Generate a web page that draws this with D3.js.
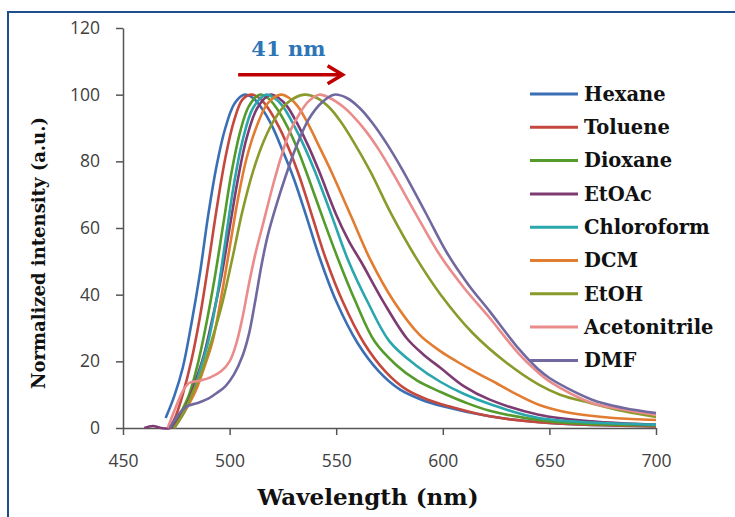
<!DOCTYPE html>
<html>
<head>
<meta charset="utf-8">
<script src="https://cdn.jsdelivr.net/npm/d3@7"></script>
<style>
  body { margin: 0; background: #fff; }
  svg { display: block; }
  .tick-label { font-family: 'Open Sans', sans-serif; font-size: 17.5px; fill: #404040; }
  .serif-bold { font-family: 'DejaVu Serif', serif; font-weight: bold; fill: #111; }
</style>
</head>
<body>
<div id="chart"></div>
<script>
// Solvents, in legend order
const solvents = ['Hexane', 'Toluene', 'Dioxane', 'EtOAc', 'Chloroform', 'DCM', 'EtOH', 'Acetonitrile', 'DMF'];
const colors = ['#3a6fb5', '#c4483e', '#549b2c', '#7e3b72', '#2aa6ad', '#e17c30', '#8a9a2b', '#ea8c8b', '#6f69a0'];

// Emission spectra: [wavelength nm, normalized intensity]
const hexane = [[470,3],[474,9.5],[478,18],[482,31],[486,46],[490,64],[494,79],[498,90],[502,97],[506,99.8],[508,100],[511,99],[515,96],[520,90.5],[525,83],[530,75],[536,63.5],[542,51.5],[550,38],[560,25.5],[570,17],[580,11.5],[590,8.5],[600,6.5],[622,3.5],[650,1.5],[700,0.5]];
const toluene = [[472,0],[475,4],[478,10],[482,20],[486,33],[490,49],[494,66],[498,81],[502,92],[506,98.5],[510,100],[514,99],[518,96],[523,90.5],[528,83.5],[533,75],[539,63],[545,51],[553,38],[563,25.5],[573,17],[583,11.5],[593,8.5],[603,6.5],[622,3.5],[650,1.5],[700,0.5]];
const dioxane = [[473,0],[477,4.5],[481,10],[485,19],[489,31],[493,45],[497,61],[501,77],[505,89],[509,96.5],[514,100],[518,99],[522,96],[527,90.5],[532,83.5],[537,75],[544,62.5],[551,50.5],[559,38],[568,26],[578,19],[588,14.2],[599,10.8],[610,7.8],[622,5.2],[650,2],[700,0.8]];
const etoac = [[460,0],[464,0.6],[468,0],[472,0],[476,2.5],[480,7],[484,14],[488,22],[492,33],[496,45],[500,60],[504,75],[508,87],[513,96],[519,100],[523,99],[527,96.5],[532,91],[537,84.5],[542,77],[550,64],[556,56],[562,49.5],[572,38],[583,27],[591,22],[599,18],[610,12.5],[622,8.5],[645,4],[670,2],[700,1]];
const chloroform = [[474,0],[478,4],[482,9],[486,17],[490,26],[494,39],[498,56],[502,73],[506,86],[511,96],[517,100],[521,99],[525,96.5],[530,91],[535,84.5],[540,77],[548,63.5],[555.5,50.5],[565,37.5],[575,26],[587,19],[599,13.8],[610,10.2],[622,7.2],[645,3],[700,1]];
const dcm = [[474,0],[479,5],[484,11],[488,18],[492,26],[496,39],[500,54],[504,69],[508,81],[513,91],[518,97.5],[524,100],[528,99],[532,96.5],[537,91],[542,84.5],[548,76.5],[557,63.5],[566,50.5],[577,38],[589,28],[599,23],[607,19.8],[613,17.6],[619,15.5],[625,13.5],[632,11],[645,7],[660,4.5],[680,3],[700,2.4]];
const etoh = [[474,0],[478,4],[483,11],[487,17],[491,25],[496,36],[501,50],[506,65],[511,77],[516,86],[521,92.5],[527,97.5],[535,100],[541,99],[547,96],[552,92],[558,86],[566,77],[576,64],[588,50.5],[599,40],[614,28.5],[630,19.5],[645,13],[655,10],[669,7.5],[685,5],[700,3.3]];
const acetonitrile = [[471,0],[474,5],[478,11],[481,13.5],[486,14.2],[491,15.2],[496,17],[500,20],[503,25],[506,33],[509,43],[512,52],[516,62],[520,72],[524,81],[528,88.5],[533,94.5],[537,98],[542,100],[547,99],[553,96.5],[558,93.5],[564,89],[570,83.5],[577,76],[588,63.5],[599,51.5],[610,42],[622,33],[636,22],[645,16.5],[650,14],[670,7.5],[685,5.5],[700,4]];
const dmf = [[472,0],[476,4],[480,6.5],[485,7.5],[490,8.8],[494,10.5],[498,12.5],[502,16],[506,21.5],[509,28],[512,38],[515,49],[518,58],[522,67],[526,75],[531,84],[537,92.5],[543,97.5],[549,100],[555,99],[561,96],[567,91.5],[574,85],[581,77.5],[592,64.5],[602,52.5],[612,43],[622,35],[636,23.5],[645,17.5],[650,15],[670,8.5],[685,6],[700,4.5]];
const spectra = [hexane, toluene, dioxane, etoac, chloroform, dcm, etoh, acetonitrile, dmf];

const xTicks = [450, 500, 550, 600, 650, 700];
const yTicks = [0, 20, 40, 60, 80, 100, 120];

// 41 nm shift annotation (data units)
const shiftFrom = 504, shiftTo = 553, shiftLevel = 106;

const W = 735, H = 517;
const svg = d3.select('#chart').append('svg')
    .attr('width', W)
    .attr('height', H);

// Outer frame (runs off the right and bottom edges)
svg.append('path')
    .attr('d', `M${W + 5},12 H8 V${H + 5}`)
    .attr('fill', 'none')
    .attr('stroke', '#1f4e8c')
    .attr('stroke-width', 2);

const x = d3.scaleLinear().domain([450, 700]).range([123, 656]);
const y = d3.scaleLinear().domain([0, 120]).range([428, 28]);

// Axes
const xAxis = svg.append('g')
    .attr('transform', `translate(0,${y(0)})`)
    .call(d3.axisBottom(x).tickValues(xTicks).tickSize(7).tickSizeOuter(0).tickPadding(20));
const yAxis = svg.append('g')
    .attr('transform', `translate(${x(450)},0)`)
    .call(d3.axisLeft(y).tickValues(yTicks).tickSize(7).tickSizeOuter(0).tickPadding(16));

[xAxis, yAxis].forEach(g => {
    g.select('.domain').attr('stroke', '#555').attr('stroke-width', 1.5);
    g.selectAll('.tick line').attr('stroke', '#555').attr('stroke-width', 1.5);
    g.selectAll('.tick text').attr('class', 'tick-label').attr('font-family', null).attr('font-size', null).attr('fill', null);
});

// Spectra
const line = d3.line()
    .x(d => x(d[0]))
    .y(d => y(d[1]))
    .curve(d3.curveCatmullRom.alpha(0.5));

svg.append('g')
    .selectAll('path')
    .data(spectra)
    .join('path')
    .attr('d', line)
    .attr('fill', 'none')
    .attr('stroke', (d, i) => colors[i])
    .attr('stroke-width', 2.6)
    .attr('stroke-linejoin', 'round');

// Legend
const legend = svg.append('g');
solvents.forEach((name, i) => {
    const ly = 94 + i * 33.3;
    legend.append('line')
        .attr('x1', 530).attr('x2', 578)
        .attr('y1', ly).attr('y2', ly)
        .attr('stroke', colors[i])
        .attr('stroke-width', 3);
    legend.append('text')
        .attr('class', 'serif-bold')
        .attr('x', 584)
        .attr('y', ly)
        .attr('dy', '0.35em')
        .style('font-size', '19.5px')
        .text(name);
});

// Shift arrow + label
const ay = y(shiftLevel);
svg.append('line')
    .attr('x1', x(shiftFrom)).attr('x2', x(shiftTo) - 2)
    .attr('y1', ay).attr('y2', ay)
    .attr('stroke', '#c00000')
    .attr('stroke-width', 3.5);
svg.append('path')
    .attr('d', `M${x(shiftTo) - 15},${ay - 9} L${x(shiftTo)},${ay} L${x(shiftTo) - 15},${ay + 9}`)
    .attr('fill', 'none')
    .attr('stroke', '#c00000')
    .attr('stroke-width', 3.5);
svg.append('text')
    .attr('x', (x(shiftFrom) + x(shiftTo)) / 2 - 2)
    .attr('y', ay - 19)
    .attr('text-anchor', 'middle')
    .style('font-family', "'DejaVu Serif', serif")
    .style('font-weight', 'bold')
    .style('font-size', '21px')
    .style('fill', '#2e75b6')
    .text('41 nm');

// Axis titles
svg.append('text')
    .attr('class', 'serif-bold')
    .attr('x', 368)
    .attr('y', 505)
    .attr('text-anchor', 'middle')
    .style('font-size', '23px')
    .text('Wavelength (nm)');

svg.append('text')
    .attr('class', 'serif-bold')
    .attr('transform', 'translate(45,253) rotate(-90)')
    .attr('text-anchor', 'middle')
    .style('font-size', '18px')
    .text('Normalized intensity (a.u.)');
</script>
</body>
</html>
